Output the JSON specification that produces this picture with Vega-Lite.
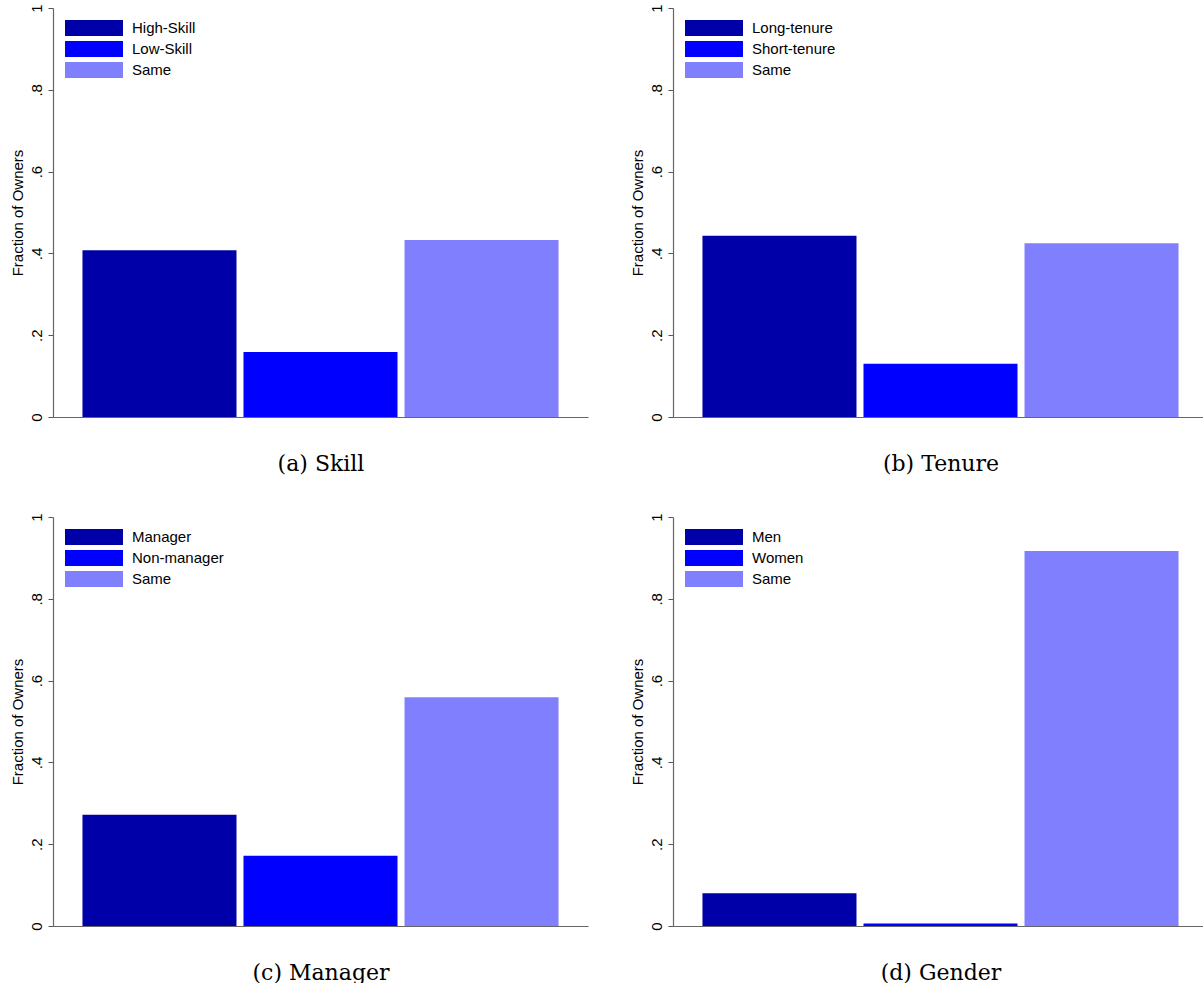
{
  "$schema": "https://vega.github.io/schema/vega-lite/v6.json",
  "background": "white",
  "padding": {"left": 10, "top": 3, "right": 0, "bottom": 0},
  "datasets": {
    "owners": [
      {"panel": "Skill", "group": "High-Skill", "share": 0.408},
      {"panel": "Skill", "group": "Low-Skill", "share": 0.159},
      {"panel": "Skill", "group": "Same", "share": 0.433},
      {"panel": "Tenure", "group": "Long-tenure", "share": 0.443},
      {"panel": "Tenure", "group": "Short-tenure", "share": 0.130},
      {"panel": "Tenure", "group": "Same", "share": 0.425},
      {"panel": "Manager", "group": "Manager", "share": 0.272},
      {"panel": "Manager", "group": "Non-manager", "share": 0.172},
      {"panel": "Manager", "group": "Same", "share": 0.559},
      {"panel": "Gender", "group": "Men", "share": 0.080},
      {"panel": "Gender", "group": "Women", "share": 0.006},
      {"panel": "Gender", "group": "Same", "share": 0.917}
    ]
  },
  "config": {
    "view": {"stroke": null},
    "font": "Liberation Sans",
    "axisY": {
      "labelAngle": 270,
      "labelAlign": "center",
      "labelBaseline": "bottom",
      "labelFont": "Liberation Sans",
      "labelFontSize": 15,
      "labelColor": "#000000",
      "labelPadding": 4,
      "labelFlush": false,
      "labelOverlap": false,
      "tickSize": 5,
      "tickColor": "#555555",
      "domainColor": "#666666",
      "domainWidth": 1.2,
      "grid": false,
      "titleFont": "Liberation Sans",
      "titleFontSize": 15,
      "titleFontWeight": "normal",
      "titleColor": "#000000",
      "titlePadding": 4
    },
    "axisX": {
      "labels": false,
      "ticks": false,
      "domainColor": "#666666",
      "domainWidth": 1.2,
      "grid": false,
      "titleFont": "DejaVu Serif",
      "titleFontSize": 22,
      "titleFontWeight": "normal",
      "titleColor": "#000000",
      "titlePadding": 36
    },
    "legend": {
      "orient": "none",
      "legendX": 12,
      "legendY": 12,
      "symbolType": "M-3.625,-1H3.625V1H-3.625Z",
      "symbolSize": 256,
      "symbolOffset": 21,
      "symbolStrokeWidth": 0,
      "symbolOpacity": 1,
      "labelOffset": 30,
      "labelFont": "Liberation Sans",
      "labelFontSize": 15,
      "labelColor": "#000000",
      "rowPadding": 5,
      "padding": 0
    }
  },
  "columns": 2,
  "spacing": {"row": 38, "column": 42},
  "resolve": {"scale": {"color": "independent"}},
  "concat": [
    {
      "width": 535,
      "height": 409,
      "data": {"name": "owners"},
      "transform": [{"filter": "datum.panel == 'Skill'"}],
      "mark": "bar",
      "encoding": {
        "x": {"field": "group", "type": "nominal", "sort": ["High-Skill", "Low-Skill", "Same"], "scale": {"paddingInner": 0.0435, "paddingOuter": 0.183}, "axis": {"title": "(a) Skill"}},
        "y": {"field": "share", "type": "quantitative", "scale": {"domain": [0, 1]}, "axis": {"title": "Fraction of Owners", "values": [0, 0.2, 0.4, 0.6, 0.8, 1], "labelExpr": "datum.value == 0 ? '0' : datum.value == 1 ? '1' : replace(format(datum.value, '.1f'), '0.', '.')"}},
        "color": {"field": "group", "type": "nominal", "scale": {"domain": ["High-Skill", "Low-Skill", "Same"], "range": ["#0000A8", "#0000FF", "#8080FF"]}, "legend": {"title": null}}
      }
    },
    {
      "width": 535,
      "height": 409,
      "data": {"name": "owners"},
      "transform": [{"filter": "datum.panel == 'Tenure'"}],
      "mark": "bar",
      "encoding": {
        "x": {"field": "group", "type": "nominal", "sort": ["Long-tenure", "Short-tenure", "Same"], "scale": {"paddingInner": 0.0435, "paddingOuter": 0.183}, "axis": {"title": "(b) Tenure"}},
        "y": {"field": "share", "type": "quantitative", "scale": {"domain": [0, 1]}, "axis": {"title": "Fraction of Owners", "values": [0, 0.2, 0.4, 0.6, 0.8, 1], "labelExpr": "datum.value == 0 ? '0' : datum.value == 1 ? '1' : replace(format(datum.value, '.1f'), '0.', '.')"}},
        "color": {"field": "group", "type": "nominal", "scale": {"domain": ["Long-tenure", "Short-tenure", "Same"], "range": ["#0000A8", "#0000FF", "#8080FF"]}, "legend": {"title": null}}
      }
    },
    {
      "width": 535,
      "height": 409,
      "data": {"name": "owners"},
      "transform": [{"filter": "datum.panel == 'Manager'"}],
      "mark": "bar",
      "encoding": {
        "x": {"field": "group", "type": "nominal", "sort": ["Manager", "Non-manager", "Same"], "scale": {"paddingInner": 0.0435, "paddingOuter": 0.183}, "axis": {"title": "(c) Manager"}},
        "y": {"field": "share", "type": "quantitative", "scale": {"domain": [0, 1]}, "axis": {"title": "Fraction of Owners", "values": [0, 0.2, 0.4, 0.6, 0.8, 1], "labelExpr": "datum.value == 0 ? '0' : datum.value == 1 ? '1' : replace(format(datum.value, '.1f'), '0.', '.')"}},
        "color": {"field": "group", "type": "nominal", "scale": {"domain": ["Manager", "Non-manager", "Same"], "range": ["#0000A8", "#0000FF", "#8080FF"]}, "legend": {"title": null}}
      }
    },
    {
      "width": 535,
      "height": 409,
      "data": {"name": "owners"},
      "transform": [{"filter": "datum.panel == 'Gender'"}],
      "mark": "bar",
      "encoding": {
        "x": {"field": "group", "type": "nominal", "sort": ["Men", "Women", "Same"], "scale": {"paddingInner": 0.0435, "paddingOuter": 0.183}, "axis": {"title": "(d) Gender"}},
        "y": {"field": "share", "type": "quantitative", "scale": {"domain": [0, 1]}, "axis": {"title": "Fraction of Owners", "values": [0, 0.2, 0.4, 0.6, 0.8, 1], "labelExpr": "datum.value == 0 ? '0' : datum.value == 1 ? '1' : replace(format(datum.value, '.1f'), '0.', '.')"}},
        "color": {"field": "group", "type": "nominal", "scale": {"domain": ["Men", "Women", "Same"], "range": ["#0000A8", "#0000FF", "#8080FF"]}, "legend": {"title": null}}
      }
    }
  ]
}
